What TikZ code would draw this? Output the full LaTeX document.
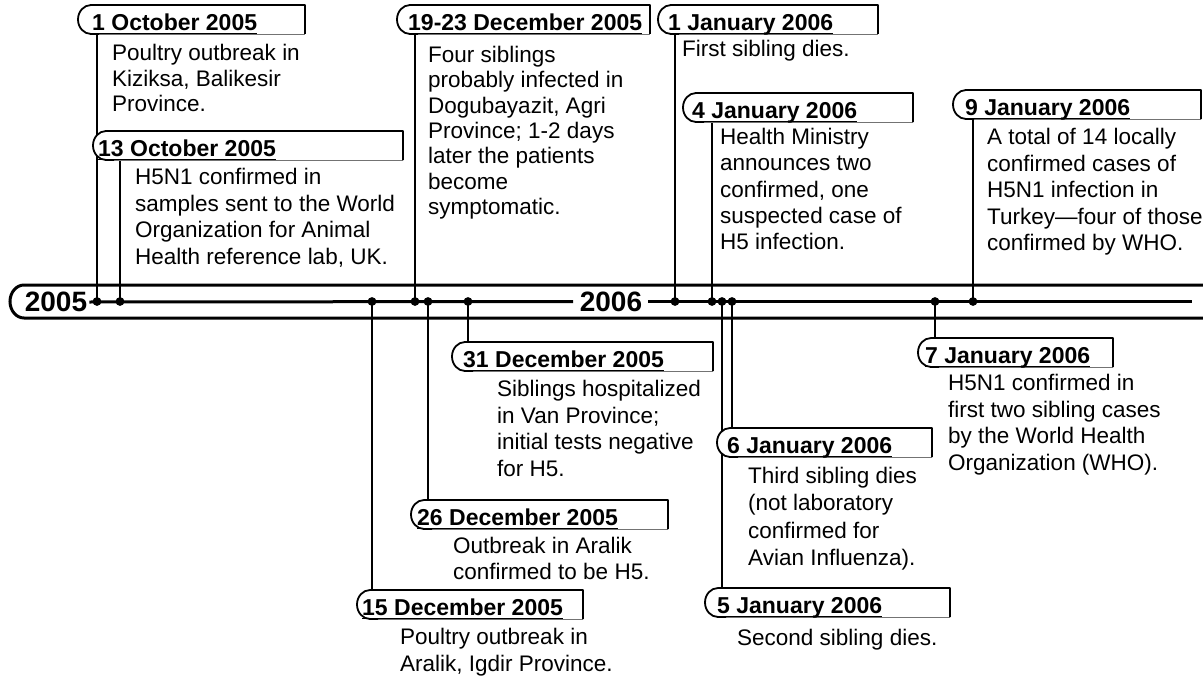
\documentclass[tikz,border=0pt]{standalone}
\usepackage{fontspec}
\setmainfont{Liberation Sans}
\def\bls{26.3pt}
\tikzset{
  stem/.style={line width=2.4pt},
  dot/.style={circle, fill=black, inner sep=0pt, minimum size=8.5pt},
  tabedge/.style={line width=1.8pt, line join=round},
  tabbottom/.style={line width=0.8pt, black!55},
  datetext/.style={font=\bfseries\fontsize{23pt}{26pt}\selectfont, inner sep=0pt, anchor=base west},
  bodytext/.style={font=\fontsize{22.5pt}{\bls}\selectfont, inner sep=0pt, anchor=north west, align=left},
  uline/.style={line width=1.6pt},
  tl/.style={line width=3pt},
  yeartext/.style={font=\bfseries\fontsize{28pt}{30pt}\selectfont, inner sep=0pt},
}
% #1 name, #2 left, #3 top, #4 right, #5 date x, #6 date, #7 body x, #8 body top, #9 body
\newcommand\evt[9]{%
  \fill[white] (#4,#3+29) -- (#4,#3) -- (#2+13,#3) arc[start angle=270,end angle=90,x radius=13,y radius=14.5] -- cycle;
  \draw[tabbottom] (#2+13,#3+29) -- (#4,#3+29);
  \draw[tabedge] (#4,#3+29) -- (#4,#3) -- (#2+13,#3) arc[start angle=270,end angle=90,x radius=13,y radius=14.5] -- ++(8,0);
  \node[datetext] (d#1) at (#5,#3+25.5) {#6};
  \draw[uline] ([yshift=-3pt]d#1.base west) -- ([yshift=-3pt]d#1.base east);
  \node[bodytext] (b#1) at (#7,#8) {#9};
}
\begin{document}
\begin{tikzpicture}[x=1pt,y=-1pt]
\useasboundingbox (0,0) rectangle (1203,677);
\clip (0,0) rectangle (1203,677);
\fill[white] (0,0) rectangle (1203,677);

% timeline band
\draw[tl] (1203,285) -- (24,285) arc[start angle=270,end angle=90,x radius=14,y radius=16.5] -- (1203,318);
\node[yeartext] (y2005) at (56,302) {2005};
\node[yeartext] (y2006) at (611,302) {2006};
\draw[tl] (y2005.east) ++(2pt,0) -- (573,301.5);
\draw[tl] (648,301.5) -- (1192,301.5);

% points on the timeline
\node[dot] (p1) at (97,301.5) {};
\node[dot] (p2) at (120,301.5) {};
\node[dot] (p10) at (372,301.5) {};
\node[dot] (p3) at (415,301.5) {};
\node[dot] (p9) at (428,301.5) {};
\node[dot] (p8) at (468,301.5) {};
\node[dot] (p4) at (675,301.5) {};
\node[dot] (p5) at (712,301.5) {};
\node[dot] (p12) at (722,301.5) {};
\node[dot] (p11) at (732,301.5) {};
\node[dot] (p7) at (935,301.5) {};
\node[dot] (p6) at (973,301.5) {};

% stem ends
\coordinate (s1) at (97,34);
\coordinate (s2) at (120,160);
\coordinate (s3) at (415,34);
\coordinate (s4) at (675,34);
\coordinate (s5) at (712,122);
\coordinate (s6) at (973,119);
\coordinate (s7) at (935,338);
\coordinate (s8) at (468,342);
\coordinate (s9) at (428,500);
\coordinate (s10) at (372,590);
\coordinate (s11) at (732,428);
\coordinate (s12) at (722,588);
\foreach \i in {1,...,12} {\draw[stem] (p\i.center) -- (s\i);}

% events
\def\bls{25.5pt}
\evt{1}{78}{5}{305}{92}{1 October 2005}{112}{44}{Poultry outbreak in\\Kiziksa, Balikesir\\Province.}
\def\bls{26.7pt}
\evt{2}{93}{131}{403}{98}{13 October 2005}{135}{168}{H5N1 confirmed in\\samples sent to the World\\Organization for Animal\\Health reference lab, UK.}
\def\bls{25.3pt}
\evt{3}{397}{5}{650}{408}{19-23 December 2005}{428}{46}{Four siblings\\probably infected in\\Dogubayazit, Agri\\Province; 1-2 days\\later the patients\\become\\symptomatic.}
\def\bls{26.3pt}
\evt{4}{658}{5}{878}{668}{1 January 2006}{682}{40}{First sibling dies.}
\evt{5}{683}{93}{913}{692}{4 January 2006}{720}{128}{Health Ministry\\announces two\\confirmed, one\\suspected case of\\H5 infection.}
\def\bls{26.5pt}
\evt{6}{953}{90}{1201}{965}{9 January 2006}{987}{128}{A total of 14 locally\\confirmed cases of\\H5N1 infection in\\Turkey—four of those\\confirmed by WHO.}
\evt{7}{918}{338}{1113}{925}{7 January 2006}{948}{374}{H5N1 confirmed in\\first two sibling cases\\by the World Health\\Organization (WHO).}
\def\bls{26.7pt}
\evt{8}{452}{342}{713}{463}{31 December 2005}{497}{380}{Siblings hospitalized\\in Van Province;\\initial tests negative\\for H5.}
\def\bls{26.3pt}
\evt{9}{411}{500}{668}{417}{26 December 2005}{453}{537}{Outbreak in Aralik\\confirmed to be H5.}
\def\bls{27pt}
\evt{10}{357}{590}{583}{362}{15 December 2005}{400}{628}{Poultry outbreak in\\Aralik, Igdir Province.}
\def\bls{27.3pt}
\evt{11}{717}{428}{932}{727}{6 January 2006}{748}{467}{Third sibling dies\\(not laboratory\\confirmed for\\Avian Influenza).}
\evt{12}{705}{588}{950}{717}{5 January 2006}{737}{629}{Second sibling dies.}

% redraw dots on top
\foreach \i in {1,...,12} {\fill (p\i) circle[radius=4.2pt];}
\end{tikzpicture}
\end{document}
